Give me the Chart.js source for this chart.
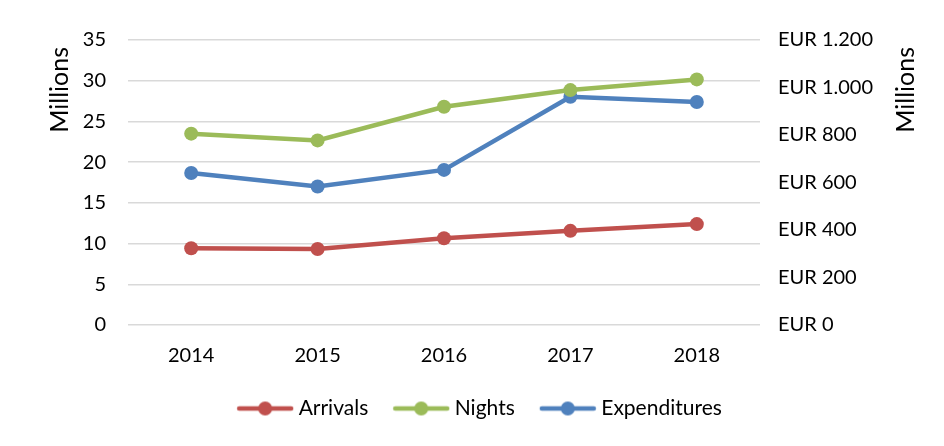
<!DOCTYPE html>
<html>
<head>
<meta charset="utf-8">
<script src="https://cdn.jsdelivr.net/npm/chart.js@4/dist/chart.umd.min.js"></script>
<style>
  html, body { margin: 0; padding: 0; background: #fff; }
  #wrap { width: 944px; height: 446px; }
</style>
</head>
<body>
<div id="wrap"><canvas id="chart"></canvas></div>
<script>
"use strict";

// data
const years = ["2014", "2015", "2016", "2017", "2018"];
const arrivals = [9.42, 9.34, 10.66, 11.56, 12.39];
const nights = [23.5, 22.67, 26.8, 28.85, 30.16];
const expenditures = [640, 583, 653, 961, 939];

const FONT = "Lato, 'Open Sans', sans-serif";
const red = "#C0504D";
const green = "#9BBB59";
const blue = "#4F81BD";

// legend marker: line with a dot (wider than the box so it sits close to the text)
function legendMarker(color) {
  const c = document.createElement("canvas");
  c.width = 72;
  c.height = 18;
  const g = c.getContext("2d");
  g.strokeStyle = color;
  g.lineWidth = 4.5;
  g.lineCap = "round";
  g.beginPath();
  g.moveTo(17, 9);
  g.lineTo(69, 9);
  g.stroke();
  g.fillStyle = color;
  g.beginPath();
  g.arc(43, 9, 7, 0, Math.PI * 2);
  g.fill();
  return c;
}

function eur(v) {
  return "EUR " + String(v).replace(/\B(?=(\d{3})+(?!\d))/g, ".");
}

// axis titles, both read bottom-to-top and sit at the top of the plot
const axisTitles = {
  id: "axisTitles",
  afterDraw(chart) {
    const ctx = chart.ctx;
    const area = chart.chartArea;
    [60, 906].forEach((x) => {
      ctx.save();
      ctx.translate(x, area.top + 7);
      ctx.rotate(-Math.PI / 2);
      ctx.font = "25px " + FONT;
      ctx.fillStyle = "#000";
      ctx.textAlign = "right";
      ctx.textBaseline = "middle";
      ctx.fillText("Millions", 0, 0);
      ctx.restore();
    });
  }
};

const ctx = document.getElementById("chart").getContext("2d");

new Chart(ctx, {
  type: "line",
  data: {
    labels: years,
    datasets: [{
      label: "Arrivals",
      data: arrivals,
      yAxisID: "y",
      borderColor: red,
      backgroundColor: red,
      marker: legendMarker(red)
    }, {
      label: "Nights",
      data: nights,
      yAxisID: "y",
      borderColor: green,
      backgroundColor: green,
      marker: legendMarker(green)
    }, {
      label: "Expenditures",
      data: expenditures,
      yAxisID: "y1",
      borderColor: blue,
      backgroundColor: blue,
      marker: legendMarker(blue)
    }]
  },
  options: {
    responsive: true,
    maintainAspectRatio: false,
    animation: false,
    layout: { padding: { left: 6, right: 0, top: 40, bottom: 17 } },
    elements: {
      line: { borderWidth: 4.5, tension: 0 },
      point: { radius: 7, borderWidth: 0, hoverRadius: 7 }
    },
    plugins: {
      tooltip: { enabled: false },
      legend: {
        position: "bottom",
        labels: {
          usePointStyle: true,
          pointStyleWidth: 60,
          padding: 16,
          color: "#000",
          font: { family: FONT, size: 21 },
          generateLabels(chart) {
            return chart.data.datasets.map((ds, i) => ({
              text: ds.label,
              fillStyle: ds.borderColor,
              strokeStyle: ds.borderColor,
              pointStyle: ds.marker,
              datasetIndex: i,
              hidden: false,
              fontColor: "#000"
            }));
          }
        }
      }
    },
    scales: {
      x: {
        offset: true,
        grid: { display: false, drawTicks: false },
        border: { display: false },
        ticks: { color: "#000", font: { family: FONT, size: 20 }, padding: 19 },
        afterFit: (scale) => { scale.height = 57; }
      },
      y: {
        position: "left",
        min: 0,
        max: 35,
        ticks: { stepSize: 5, color: "#000", font: { family: FONT, size: 20 }, padding: 22 },
        grid: { color: "#d9d9d9", lineWidth: 1.5, drawTicks: false },
        border: { display: false },
        afterFit: (scale) => { scale.width = 122; }
      },
      y1: {
        position: "right",
        min: 0,
        max: 1200,
        ticks: {
          stepSize: 200,
          color: "#000",
          font: { family: FONT, size: 20 },
          padding: 18,
          callback: (v) => eur(v)
        },
        grid: { drawOnChartArea: false, drawTicks: false },
        border: { display: false },
        afterFit: (scale) => { scale.width = 184; }
      }
    }
  },
  plugins: [axisTitles]
});
</script>
</body>
</html>
